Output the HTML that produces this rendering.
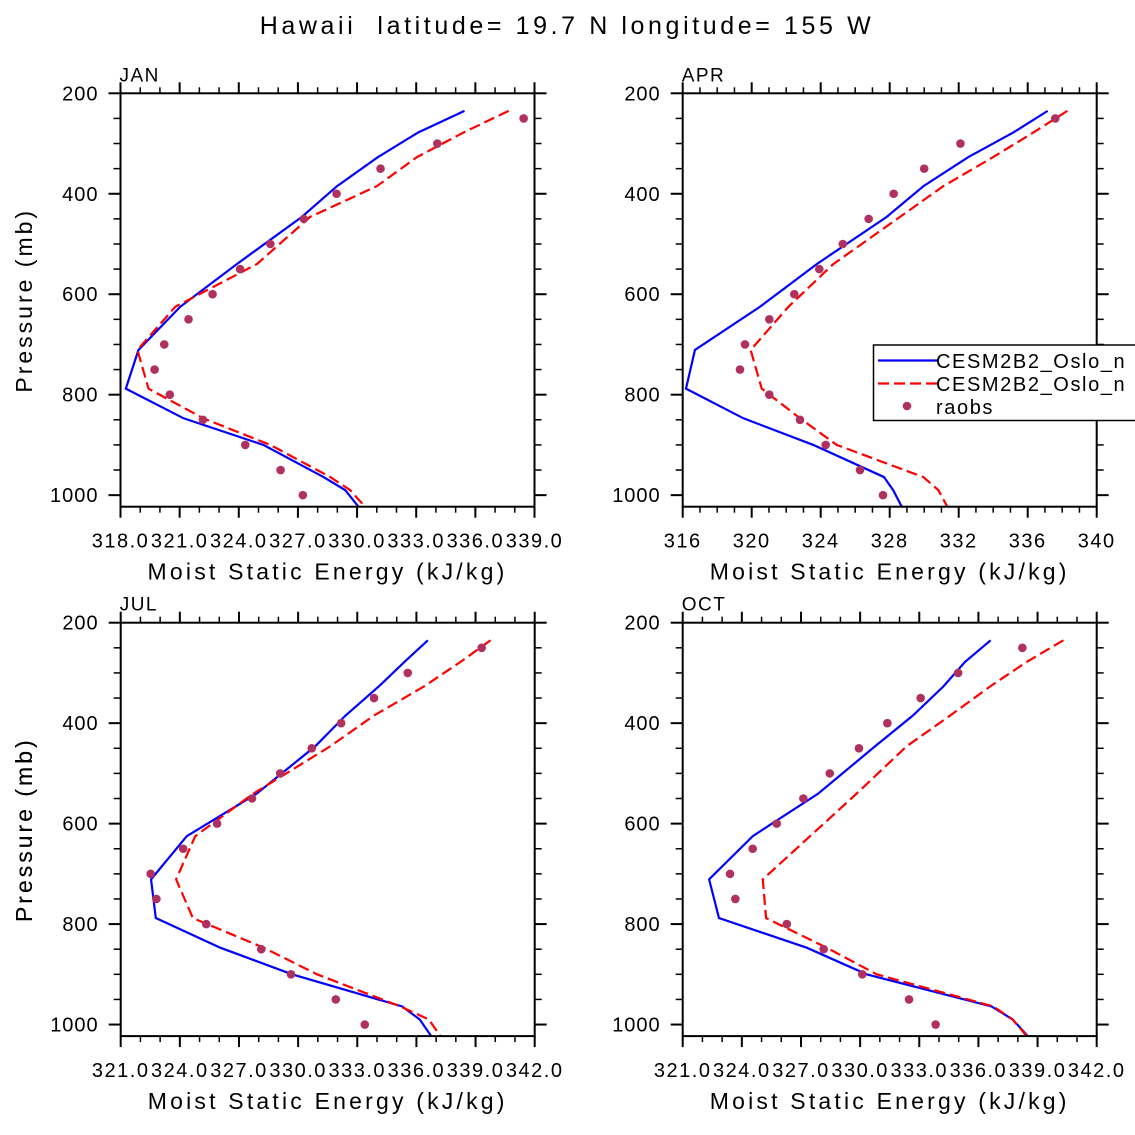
<!DOCTYPE html>
<html><head><meta charset="utf-8"><style>
html,body{margin:0;padding:0;background:#fff;}
svg{display:block;font-family:"Liberation Sans","DejaVu Sans",sans-serif;}
</style></head><body>
<svg id="fig" width="1135" height="1135" viewBox="0 0 1135 1135" xmlns="http://www.w3.org/2000/svg">
<rect x="0" y="0" width="1135" height="1135" fill="#fff"/>
<text x="567" y="34" font-size="25" text-anchor="middle" fill="#000" letter-spacing="3.6" style="white-space:pre">Hawaii  latitude= 19.7 N longitude= 155 W</text>
</svg>
<script>
const modelPressure = [235, 278, 327, 385, 446, 540, 625, 711, 788, 847, 900, 964, 990, 1023];
const obsPressure = [250, 300, 350, 400, 450, 500, 550, 600, 650, 700, 750, 800, 850, 900, 950, 1000];
const pressureTicks = [200, 400, 600, 800, 1000];
const monthNames = ["JAN", "APR", "JUL", "OCT"];

const janModel1 = [335.45, 333.1, 331.06, 328.98, 327.2, 323.9, 321.03, 318.91, 318.27, 321.2, 325.25, 328.3, 329.4, 330.07];
const janModel2 = [337.69, 335.4, 333.04, 331.0, 327.62, 324.92, 320.78, 318.86, 319.42, 322.2, 325.6, 328.64, 329.65, 330.4];
const janObs = [338.45, 334.07, 331.19, 328.96, 327.3, 325.6, 324.07, 322.67, 321.45, 320.22, 319.73, 320.5, 322.18, 324.33, 326.12, 327.25];
const janTicks = ["318.0","321.0","324.0","327.0","330.0","333.0","336.0","339.0"];

const aprModel1 = [337.16, 335.17, 332.56, 329.95, 327.83, 323.77, 320.48, 316.71, 316.19, 319.52, 323.57, 327.67, 328.2, 328.7];
const aprModel2 = [338.3, 336.33, 334.0, 331.1, 328.6, 324.73, 322.13, 319.94, 320.58, 322.8, 324.93, 329.95, 330.82, 331.34];
const aprObs = [337.6, 332.1, 330.0, 328.23, 326.78, 325.28, 323.92, 322.47, 321.02, 319.61, 319.32, 321.02, 322.8, 324.29, 326.28, 327.61];
const aprTicks = ["316","320","324","328","332","336","340"];

const julModel1 = [336.58, 335.39, 334.09, 332.4, 330.87, 327.91, 324.35, 322.54, 322.78, 326.05, 329.69, 335.28, 336.17, 336.75];
const julModel2 = [339.76, 338.24, 336.38, 333.84, 331.63, 327.74, 324.78, 323.81, 324.66, 328.25, 330.96, 335.19, 336.63, 337.22];
const julObs = [339.31, 335.56, 333.85, 332.18, 330.69, 329.09, 327.66, 325.89, 324.17, 322.52, 322.81, 325.34, 328.13, 329.64, 331.91, 333.38];
const julTicks = ["321.0","324.0","327.0","330.0","333.0","336.0","339.0","342.0"];

const octModel1 = [336.62, 335.32, 334.22, 332.67, 330.76, 327.88, 324.55, 322.34, 322.84, 327.29, 330.33, 336.67, 337.74, 338.5];
const octModel2 = [340.31, 338.45, 336.59, 334.56, 332.36, 329.83, 327.46, 325.06, 325.23, 328.3, 330.84, 336.76, 337.74, 338.45];
const octObs = [338.23, 334.97, 333.07, 331.38, 329.94, 328.46, 327.12, 325.77, 324.55, 323.4, 323.67, 326.28, 328.15, 330.11, 332.48, 333.83];
const octTicks = ["321.0","324.0","327.0","330.0","333.0","336.0","339.0","342.0"];

const NS = "http://www.w3.org/2000/svg";
const svg = document.getElementById("fig");
function mk(tag, attrs, parent){
  const e = document.createElementNS(NS, tag);
  for (const k in attrs) e.setAttribute(k, attrs[k]);
  (parent||svg).appendChild(e);
  return e;
}

const panels = [
  {name:"jan", x0:120.5, y0:93.3, m1:janModel1, m2:janModel2, obs:janObs, ticks:janTicks, xmin:318, xmax:339, step:3, title:monthNames[0], ylab:true},
  {name:"apr", x0:682.7, y0:93.3, m1:aprModel1, m2:aprModel2, obs:aprObs, ticks:aprTicks, xmin:316, xmax:340, step:4, title:monthNames[1], ylab:false},
  {name:"jul", x0:120.7, y0:622.7, m1:julModel1, m2:julModel2, obs:julObs, ticks:julTicks, xmin:321, xmax:342, step:3, title:monthNames[2], ylab:true},
  {name:"oct", x0:682.7, y0:622.7, m1:octModel1, m2:octModel2, obs:octObs, ticks:octTicks, xmin:321, xmax:342, step:3, title:monthNames[3], ylab:true}
];
const W = 414, H = 413.4, PTOP = 200, PBOT = 1023;

panels.forEach((p, idx) => {
  const g = mk("g", {});
  
  
  const xs = v => p.x0 + (v - p.xmin) / (p.xmax - p.xmin) * W;
  const ys = pr => p.y0 + (pr - PTOP) / (PBOT - PTOP) * H;

  const clip = mk("clipPath", {id:"clip"+idx}, g);
  mk("rect", {x:p.x0, y:p.y0, width:W, height:H}, clip);

  const l1 = mk("polyline", {points:p.m1.map((v,i)=>xs(v)+","+ys(modelPressure[i])).join(" "), fill:"none", stroke:"#0000ff", "stroke-width":2.2, "clip-path":"url(#clip"+idx+")"}, g);
  
  
  const l2 = mk("polyline", {points:p.m2.map((v,i)=>xs(v)+","+ys(modelPressure[i])).join(" "), fill:"none", stroke:"#ff0000", "stroke-width":2.2, "stroke-dasharray":"11,5", "clip-path":"url(#clip"+idx+")"}, g);
  
  
  p.obs.forEach((v,i) => {
    const c = mk("circle", {cx:xs(v), cy:ys(obsPressure[i]), r:4.3, fill:"#b03060"}, g);
    
    
  });

  const fr = mk("rect", {x:p.x0, y:p.y0, width:W, height:H, fill:"none", stroke:"#000", "stroke-width":2}, g);
  
  

  for (let pr = 200; pr <= 1000; pr += 50) {
    const major = pr % 200 === 0;
    const L = major ? 12 : 7;
    mk("line", {x1:p.x0-L, x2:p.x0, y1:ys(pr), y2:ys(pr), stroke:"#000", "stroke-width":major?2:1.5}, g);
    mk("line", {x1:p.x0+W, x2:p.x0+W+L, y1:ys(pr), y2:ys(pr), stroke:"#000", "stroke-width":major?2:1.5}, g);
  }
  pressureTicks.forEach(pr => {
    const t = mk("text", {x:p.x0-22, y:ys(pr)+7, "font-size":20, "text-anchor":"end", "letter-spacing":"1"}, g);
    t.textContent = pr;
    
    
  });
  const minorStep = 1;
  for (let v = p.xmin; v <= p.xmax + 1e-9; v += minorStep) {
    const major = Math.abs(((v - p.xmin) / p.step) - Math.round((v - p.xmin) / p.step)) < 1e-6;
    const L = major ? 11 : 6;
    mk("line", {x1:xs(v), x2:xs(v), y1:p.y0+H, y2:p.y0+H+L, stroke:"#000", "stroke-width":major?2:1.5}, g);
    mk("line", {x1:xs(v), x2:xs(v), y1:p.y0-L, y2:p.y0, stroke:"#000", "stroke-width":major?2:1.5}, g);
  }
  p.ticks.forEach((lab, i) => {
    const t = mk("text", {x:xs(p.xmin + i*p.step), y:p.y0+H+41, "font-size":20, "text-anchor":"middle", "letter-spacing":"1.5"}, g);
    t.textContent = lab;
    
    
  });
  const xt = mk("text", {x:p.x0+W/2, y:p.y0+H+73, "font-size":23, "text-anchor":"middle", "letter-spacing":"3.2"}, g);
  xt.textContent = "Moist Static Energy (kJ/kg)";
  
  
  if (p.ylab) {
    const cy = p.y0 + 207;
    const yt = mk("text", {x:32, y:cy, "font-size":23, "text-anchor":"middle", "letter-spacing":"3", transform:"rotate(-90 32 "+cy+")"}, g);
    yt.textContent = "Pressure (mb)";
    
    
  }
  const mt = mk("text", {x:p.x0-1, y:p.y0-12, "font-size":19, "letter-spacing":"1.5"}, g);
  mt.textContent = p.title;
  
  
});

const lg = mk("g", {});


mk("rect", {x:873.5, y:345, width:270, height:75.5, fill:"#fff", stroke:"#000", "stroke-width":1.5}, lg);
mk("line", {x1:878, x2:937, y1:360.5, y2:360.5, stroke:"#0000ff", "stroke-width":2.2}, lg);
mk("line", {x1:878, x2:937, y1:383.5, y2:383.5, stroke:"#ff0000", "stroke-width":2.2, "stroke-dasharray":"11,5"}, lg);
mk("circle", {cx:907, cy:406, r:4.3, fill:"#b03060"}, lg);
const lt1 = mk("text", {x:936, y:368, "font-size":20, "letter-spacing":"1.6"}, lg);
lt1.textContent = "CESM2B2_Oslo_n";


const lt2 = mk("text", {x:936, y:391, "font-size":20, "letter-spacing":"1.6"}, lg);
lt2.textContent = "CESM2B2_Oslo_n";


const lt3 = mk("text", {x:936, y:414, "font-size":20, "letter-spacing":"1.6"}, lg);
lt3.textContent = "raobs";


</script>
</body></html>
